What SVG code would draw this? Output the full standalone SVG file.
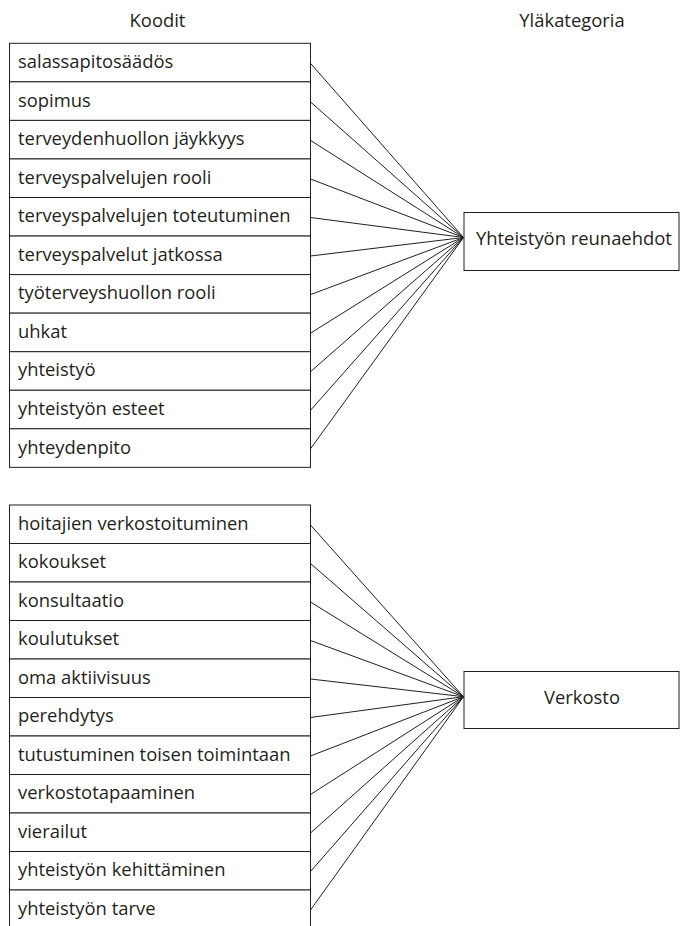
<svg xmlns="http://www.w3.org/2000/svg" width="683" height="926" viewBox="0 0 683 926">
<style>
text{font-family:"Open Sans","Noto Sans","Liberation Sans",sans-serif;font-size:18.4px;fill:#231f20}
.h{text-anchor:middle}
rect{fill:#fff;stroke:#231f20;stroke-width:1}
#connectors line{stroke:#231f20;stroke-width:1}
</style>
<rect x="0" y="0" width="683" height="926" style="stroke:none;fill:#fff"/>
<text class="h" x="157.5" y="26.7">Koodit</text>
<text class="h" x="572" y="26.7">Yläkategoria</text>
<g id="connectors">
<line x1="310.5" y1="63.3" x2="463.5" y2="237.5"/>
<line x1="310.5" y1="101.9" x2="463.5" y2="237.5"/>
<line x1="310.5" y1="140.4" x2="463.5" y2="237.5"/>
<line x1="310.5" y1="179" x2="463.5" y2="237.5"/>
<line x1="310.5" y1="217.5" x2="463.5" y2="237.5"/>
<line x1="310.5" y1="256" x2="463.5" y2="237.5"/>
<line x1="310.5" y1="294.6" x2="463.5" y2="237.5"/>
<line x1="310.5" y1="333.2" x2="463.5" y2="237.5"/>
<line x1="310.5" y1="371.7" x2="463.5" y2="237.5"/>
<line x1="310.5" y1="410.3" x2="463.5" y2="237.5"/>
<line x1="310.5" y1="448.8" x2="463.5" y2="237.5"/>
<line x1="310.5" y1="525" x2="463.5" y2="696.7"/>
<line x1="310.5" y1="563.5" x2="463.5" y2="696.7"/>
<line x1="310.5" y1="602" x2="463.5" y2="696.7"/>
<line x1="310.5" y1="640.5" x2="463.5" y2="696.7"/>
<line x1="310.5" y1="679" x2="463.5" y2="696.7"/>
<line x1="310.5" y1="717.5" x2="463.5" y2="696.7"/>
<line x1="310.5" y1="756" x2="463.5" y2="696.7"/>
<line x1="310.5" y1="794.5" x2="463.5" y2="696.7"/>
<line x1="310.5" y1="833" x2="463.5" y2="696.7"/>
<line x1="310.5" y1="871.5" x2="463.5" y2="696.7"/>
<line x1="310.5" y1="910" x2="463.5" y2="696.7"/>
</g>
<g id="a1"><rect x="9.5" y="43.3" width="301" height="38.55"/><text x="18" y="68">salassapitosäädös</text></g>
<g id="a2"><rect x="9.5" y="81.85" width="301" height="38.55"/><text x="18" y="106.55">sopimus</text></g>
<g id="a3"><rect x="9.5" y="120.4" width="301" height="38.55"/><text x="18" y="145.1">terveydenhuollon jäykkyys</text></g>
<g id="a4"><rect x="9.5" y="158.95" width="301" height="38.55"/><text x="18" y="183.65">terveyspalvelujen rooli</text></g>
<g id="a5"><rect x="9.5" y="197.5" width="301" height="38.55"/><text x="18" y="222.2">terveyspalvelujen toteutuminen</text></g>
<g id="a6"><rect x="9.5" y="236.05" width="301" height="38.55"/><text x="18" y="260.75">terveyspalvelut jatkossa</text></g>
<g id="a7"><rect x="9.5" y="274.6" width="301" height="38.55"/><text x="18" y="299.3">työterveyshuollon rooli</text></g>
<g id="a8"><rect x="9.5" y="313.15" width="301" height="38.55"/><text x="18" y="337.85">uhkat</text></g>
<g id="a9"><rect x="9.5" y="351.7" width="301" height="38.55"/><text x="18" y="376.4">yhteistyö</text></g>
<g id="a10"><rect x="9.5" y="390.25" width="301" height="38.55"/><text x="18" y="414.95">yhteistyön esteet</text></g>
<g id="a11"><rect x="9.5" y="428.8" width="301" height="38.55"/><text x="18" y="453.5">yhteydenpito</text></g>
<g id="b1"><rect x="9.5" y="505" width="301" height="38.5"/><text x="18" y="529.5">hoitajien verkostoituminen</text></g>
<g id="b2"><rect x="9.5" y="543.5" width="301" height="38.5"/><text x="18" y="568">kokoukset</text></g>
<g id="b3"><rect x="9.5" y="582" width="301" height="38.5"/><text x="18" y="606.5">konsultaatio</text></g>
<g id="b4"><rect x="9.5" y="620.5" width="301" height="38.5"/><text x="18" y="645">koulutukset</text></g>
<g id="b5"><rect x="9.5" y="659" width="301" height="38.5"/><text x="18" y="683.5">oma aktiivisuus</text></g>
<g id="b6"><rect x="9.5" y="697.5" width="301" height="38.5"/><text x="18" y="722">perehdytys</text></g>
<g id="b7"><rect x="9.5" y="736" width="301" height="38.5"/><text x="18" y="760.5">tutustuminen toisen toimintaan</text></g>
<g id="b8"><rect x="9.5" y="774.5" width="301" height="38.5"/><text x="18" y="799">verkostotapaaminen</text></g>
<g id="b9"><rect x="9.5" y="813" width="301" height="38.5"/><text x="18" y="837.5">vierailut</text></g>
<g id="b10"><rect x="9.5" y="851.5" width="301" height="38.5"/><text x="18" y="876">yhteistyön kehittäminen</text></g>
<g id="b11"><rect x="9.5" y="890" width="301" height="38.5"/><text x="18" y="914.5">yhteistyön tarve</text></g>
<g id="catA"><rect x="464" y="212.5" width="215" height="58"/><text x="476" y="245">Yhteistyön reunaehdot</text></g>
<g id="catB"><rect x="464" y="671.5" width="215" height="57"/><text class="h" x="582" y="704">Verkosto</text></g>
</svg>
